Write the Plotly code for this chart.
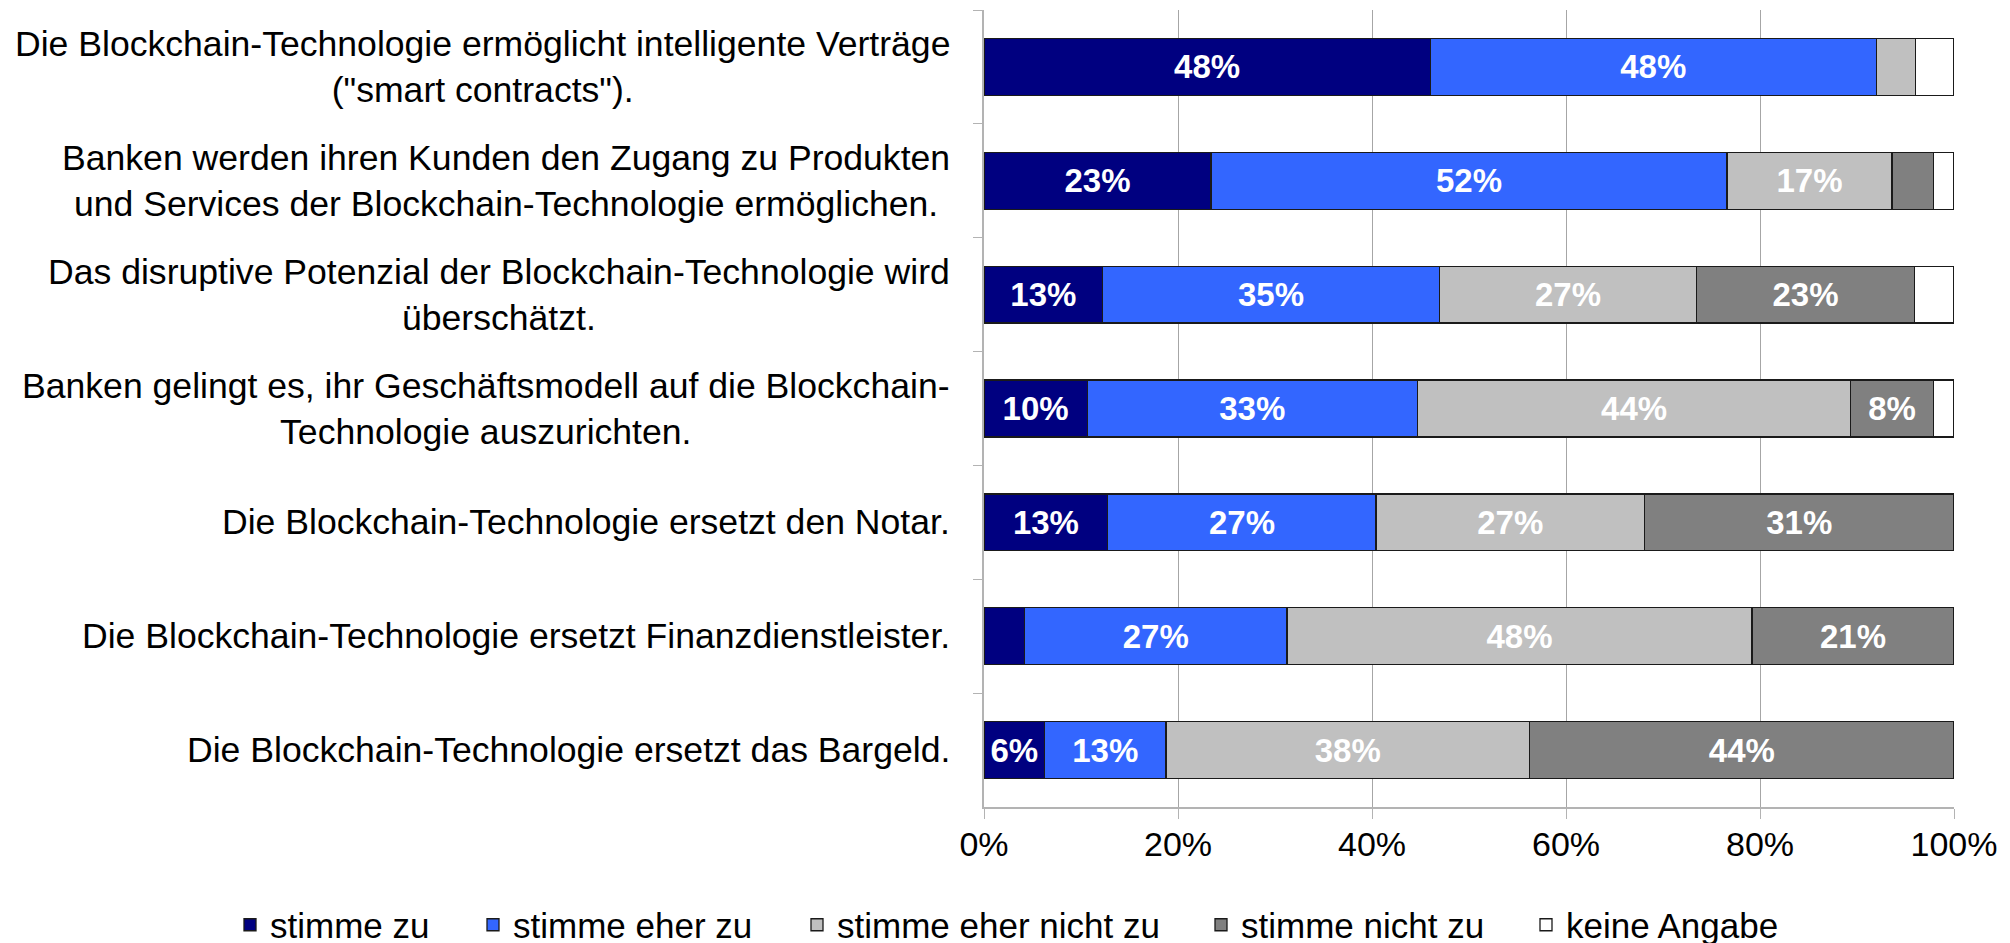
import plotly.graph_objects as go

# Statements (top to bottom)
categories = [
    "Die Blockchain-Technologie ermöglicht intelligente Verträge<br>(\"smart contracts\").",
    "Banken werden ihren Kunden den Zugang zu Produkten<br>und Services der Blockchain-Technologie ermöglichen.",
    "Das disruptive Potenzial der Blockchain-Technologie wird<br>überschätzt.",
    "Banken gelingt es, ihr Geschäftsmodell auf die Blockchain-<br>Technologie auszurichten.",
    "Die Blockchain-Technologie ersetzt den Notar.",
    "Die Blockchain-Technologie ersetzt Finanzdienstleister.",
    "Die Blockchain-Technologie ersetzt das Bargeld.",
]

series_names = ["stimme zu", "stimme eher zu", "stimme eher nicht zu", "stimme nicht zu", "keine Angabe"]

# Number of answers per statement (bars are normalised to 100 %)
stimme_zu = [23, 11, 6, 5, 6, 2, 3]
stimme_eher_zu = [23, 25, 17, 16, 13, 13, 6]
stimme_eher_nicht_zu = [2, 8, 13, 21, 13, 23, 18]
stimme_nicht_zu = [0, 2, 11, 4, 15, 10, 21]
keine_angabe = [2, 1, 2, 1, 0, 0, 0]

# Data labels as printed in the chart
labels_stimme_zu = ["48%", "23%", "13%", "10%", "13%", "", "6%"]
labels_stimme_eher_zu = ["48%", "52%", "35%", "33%", "27%", "27%", "13%"]
labels_stimme_eher_nicht_zu = ["", "17%", "27%", "44%", "27%", "48%", "38%"]
labels_stimme_nicht_zu = ["", "", "23%", "8%", "31%", "21%", "44%"]
labels_keine_angabe = ["", "", "", "", "", "", ""]

x_tick_values = [0, 20, 40, 60, 80, 100]
x_tick_labels = ["0%", "20%", "40%", "60%", "80%", "100%"]

colors = ["#000080", "#3366FF", "#C0C0C0", "#808080", "#FFFFFF"]
values = [stimme_zu, stimme_eher_zu, stimme_eher_nicht_zu, stimme_nicht_zu, keine_angabe]
texts = [labels_stimme_zu, labels_stimme_eher_zu, labels_stimme_eher_nicht_zu,
         labels_stimme_nicht_zu, labels_keine_angabe]

FONT = "Liberation Sans, Arial, sans-serif"

W, H = 2010, 943
legend_ids = ["legend", "legend2", "legend3", "legend4", "legend5"]
legend_text_x = [262, 505, 829, 1233, 1558]   # pixel x where each legend item is placed
legend_center_y = 917

fig = go.Figure()
for name, vals, txt, col, lid in zip(series_names, values, texts, colors, legend_ids):
    fig.add_trace(go.Bar(
        y=categories, x=vals, name=name, orientation="h",
        marker=dict(color=col, line=dict(color="#1A1A1A", width=1.3)),
        text=txt, textposition="inside", insidetextanchor="middle", textangle=0,
        texttemplate="%{text}",
        textfont=dict(family=FONT, size=33, color="#FFFFFF", weight="bold"),
        hoverinfo="skip", legend=lid,
    ))

for cat in categories:
    fig.add_annotation(
        x=0, xref="paper", y=cat, yref="y", text=cat, showarrow=False,
        xanchor="right", yanchor="middle", align="center", xshift=-32,
        font=dict(family=FONT, size=35.6, color="#000000"),
    )

layout_legends = {}
for lid, tx in zip(legend_ids, legend_text_x):
    layout_legends[lid] = dict(
        orientation="h", xref="container", yref="container",
        x=(tx - 40) / W, xanchor="left",
        y=(H - legend_center_y) / H, yanchor="middle",
        font=dict(family=FONT, size=35, color="#000000"),
        itemwidth=30, bgcolor="rgba(0,0,0,0)",
    )

fig.update_layout(
    barmode="stack", barnorm="percent", bargap=0.5,
    width=W, height=H,
    margin=dict(l=976, r=64, t=2, b=144),
    paper_bgcolor="#FFFFFF", plot_bgcolor="#FFFFFF",
    font=dict(family=FONT, size=34, color="#000000"),
    uniformtext=dict(minsize=33, mode="show"),
    showlegend=True,
    **layout_legends,
)

fig.update_xaxes(
    range=[0, 100], tickvals=x_tick_values, ticktext=x_tick_labels,
    showgrid=True, gridcolor="#A6A6A6", gridwidth=1,
    showline=True, linecolor="#B3B3B3", linewidth=1.5,
    ticks="outside", ticklen=10, tickcolor="#B3B3B3",
    tickfont=dict(family=FONT, size=34, color="#000000"),
    ticklabelstandoff=-4, zeroline=False, fixedrange=True,
)
fig.update_yaxes(
    autorange="reversed", showticklabels=False,
    showline=True, linecolor="#B3B3B3", linewidth=1.5,
    ticks="outside", ticklen=9, tickcolor="#B3B3B3", tickson="boundaries",
    showgrid=False, fixedrange=True,
)

fig.write_html("out.html")
